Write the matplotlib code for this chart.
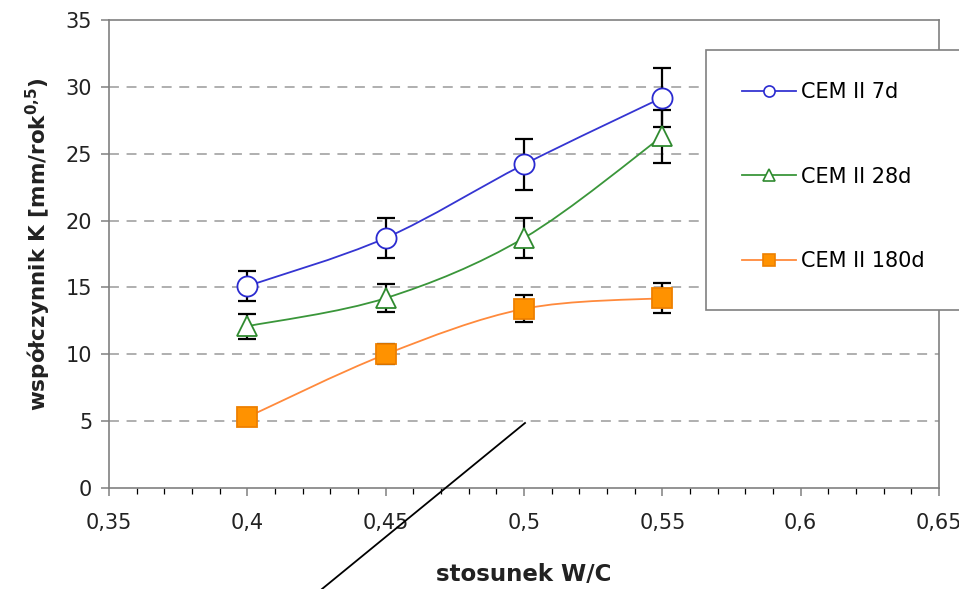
import matplotlib

matplotlib.use("Agg")

import matplotlib.pyplot as plt
from matplotlib.lines import Line2D
from matplotlib.patches import PathPatch, Rectangle
from matplotlib.path import Path
from matplotlib.ticker import FixedLocator, FuncFormatter, MultipleLocator

plt.rcParams["font.family"] = ["DejaVu Sans"]
plt.rcParams["mathtext.fontset"] = "dejavusans"

# data
wc = [0.40, 0.45, 0.50, 0.55]

k_7d = [15.1, 18.7, 24.2, 29.2]
err_7d = [1.1, 1.5, 1.9, 2.2]

k_28d = [12.1, 14.2, 18.7, 26.3]
err_28d = [0.95, 1.05, 1.5, 2.0]

k_180d = [5.3, 10.0, 13.4, 14.2]
err_180d = [0.3, 0.75, 1.0, 1.1]

labels = ["CEM II 7d", "CEM II 28d", "CEM II 180d"]
x_ticks = [0.35, 0.40, 0.45, 0.50, 0.55, 0.60, 0.65]
y_ticks = [0, 5, 10, 15, 20, 25, 30, 35]


def smooth_path(xs, ys):
    # Excel-like smoothed line: cubic Bezier through the points
    pts = list(zip(xs, ys))
    ext = [pts[0]] + pts + [pts[-1]]
    verts = [pts[0]]
    codes = [Path.MOVETO]
    for i in range(1, len(ext) - 2):
        p0, p1, p2, p3 = ext[i - 1], ext[i], ext[i + 1], ext[i + 2]
        c1 = (p1[0] + (p2[0] - p0[0]) / 6, p1[1] + (p2[1] - p0[1]) / 6)
        c2 = (p2[0] - (p3[0] - p1[0]) / 6, p2[1] - (p3[1] - p1[1]) / 6)
        verts += [c1, c2, p2]
        codes += [Path.CURVE4] * 3
    return Path(verts, codes)


def fmt_comma(x, _):
    return f"{round(x, 2):g}".replace(".", ",")


series = [
    (k_7d, err_7d, "#3535d2", "o", "white", "#2a2ad0", 14.5),
    (k_28d, err_28d, "#3a963a", "^", "white", "#2f8a2f", 14.5),
    (k_180d, err_180d, "#ff8a3c", "s", "#ff9200", "#ee8000", 14),
]

fig = plt.figure(figsize=(9.59, 5.89), dpi=100)
ax = fig.add_axes([109 / 959, 1 - 488 / 589, 830 / 959, 468 / 589])

handles = []
for (vals, errs, col, mk, face, edge, ms), lab in zip(series, labels):
    ax.add_patch(PathPatch(smooth_path(wc, vals), fill=False, edgecolor=col,
                           lw=1.3, zorder=3))
    ax.errorbar(wc, vals, yerr=errs, fmt="none", ecolor="black",
                elinewidth=1.6, capsize=6.5, capthick=1.6, zorder=4)
    ax.plot(wc, vals, ls="none", marker=mk, ms=ms, mfc=face, mec=edge,
            mew=1.3, zorder=5)
    handles.append(Line2D([], [], color=col, lw=1.3, marker=mk, ms=8,
                          mfc=face, mec=edge, mew=1.2))

ax.set_xlim(0.35, 0.65)
ax.set_ylim(0, 35)
ax.xaxis.set_major_locator(FixedLocator(x_ticks))
ax.xaxis.set_minor_locator(MultipleLocator(0.01))
ax.xaxis.set_major_formatter(FuncFormatter(fmt_comma))
ax.yaxis.set_major_locator(FixedLocator(y_ticks))

for y in y_ticks[1:-1]:
    ax.axhline(y, color="#9a9a9a", lw=1.1, ls=(0, (6.5, 5.0)), zorder=1)

for sp in ax.spines.values():
    sp.set_color("#808080")
    sp.set_linewidth(1.2)

ax.tick_params(axis="both", colors="#808080", labelcolor="#222222",
               labelsize=15)
ax.tick_params(axis="y", length=6, width=1.1, pad=6)
ax.tick_params(axis="x", which="major", length=6, width=1.1, pad=12)
ax.tick_params(axis="x", which="minor", length=4, width=0.9)

ax.set_xlabel("stosunek W/C", fontsize=16.5, fontweight="bold", color="#222222")
ax.set_ylabel(r"współczynnik K [mm/rok$^{\mathbf{0{,}5}}$)", fontsize=15.5,
              fontweight="bold", color="#222222")
ax.xaxis.set_label_coords(0.5, -0.16)
ax.yaxis.set_label_coords(-0.068, 0.52)

# legend box sticking out of the right edge
fig.add_artist(Rectangle((706 / 959, 1 - 310 / 589), 300 / 959, 260 / 589,
                         transform=fig.transFigure, facecolor="white",
                         edgecolor="#808080", lw=1.2, zorder=5))
fig.legend(handles, labels, loc="upper left",
           bbox_to_anchor=(742 / 959, 1 - 82 / 589), frameon=False,
           fontsize=15, handlelength=2.6, handletextpad=0.25,
           labelspacing=3.1, borderpad=0, borderaxespad=0).set_zorder(6)

# stray pointer line over the chart
fig.add_artist(Line2D([322 / 959, 525 / 959], [0, 1 - 423 / 589],
                      transform=fig.transFigure, color="black", lw=1.3,
                      zorder=7))

fig.savefig("out.png", dpi=100)
